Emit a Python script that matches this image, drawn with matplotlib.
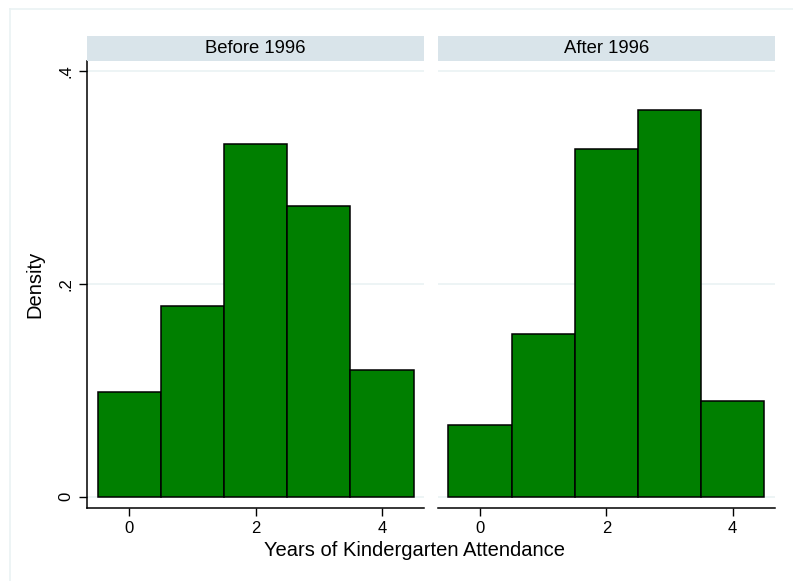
import matplotlib
matplotlib.use("Agg")
import matplotlib.pyplot as plt
from matplotlib.patches import Rectangle
from matplotlib.lines import Line2D

plt.rcParams["font.family"] = ["Liberation Sans", "DejaVu Sans"]

years = [0, 1, 2, 3, 4]
before_1996 = [0.098, 0.179, 0.331, 0.273, 0.119]
after_1996 = [0.067, 0.153, 0.327, 0.363, 0.090]
panel_titles = ["Before 1996", "After 1996"]
y_ticks = [0, 0.2, 0.4]
y_tick_labels = ["0", ".2", ".4"]
x_ticks = [0, 2, 4]

W, H = 793, 581
fig = plt.figure(figsize=(W / 100, H / 100), dpi=100)
fig.patch.set_facecolor("white")

grid_col = "#eaf2f3"
strip_col = "#d9e4ea"
green = "#007f00"

# faint outer frame of the graph region (only top and left edges fall inside the image)
fig.lines.append(Line2D([10 / W, 1], [1 - 9 / H, 1 - 9 / H], transform=fig.transFigure,
                        color=grid_col, linewidth=1.2))
fig.lines.append(Line2D([10 / W, 10 / W], [0, 1 - 9 / H], transform=fig.transFigure,
                        color=grid_col, linewidth=1.2))

bottom = 1 - 507.5 / H
top = 1 - 61 / H
lefts = [87 / W, 437.7 / W]
width = 337.3 / W

for i, (vals, title) in enumerate(zip([before_1996, after_1996], panel_titles)):
    ax = fig.add_axes([lefts[i], bottom, width, top - bottom])
    ax.set_facecolor("white")
    for yt in y_ticks:
        ax.axhline(yt, color=grid_col, linewidth=1.2, zorder=0)
    ax.bar(years, vals, width=1.0, color=green, edgecolor="black", linewidth=1.1, zorder=2)
    ax.set_xlim(-0.67, 4.67)
    ax.set_ylim(-0.0101, 0.4093)
    ax.set_xticks(x_ticks)
    ax.set_xticklabels([str(t) for t in x_ticks], fontsize=12)
    ax.tick_params(axis="x", length=6, width=1, pad=4, color="black")
    for s in ["top", "right"]:
        ax.spines[s].set_visible(False)
    ax.spines["bottom"].set_linewidth(1.1)
    if i == 0:
        ax.set_yticks(y_ticks)
        ax.set_yticklabels(y_tick_labels, fontsize=12, rotation=90, va="center")
        ax.tick_params(axis="y", length=6, width=1, pad=4)
        ax.spines["left"].set_linewidth(1.1)
        ax.set_ylabel("Density", fontsize=14.5, labelpad=10)
    else:
        ax.set_yticks([])
        ax.spines["left"].set_visible(False)

    # strip title above each panel
    sx = lefts[i]
    fig.patches.append(Rectangle((sx, 1 - 61 / H), width, 25 / H, transform=fig.transFigure,
                                 facecolor=strip_col, edgecolor="none"))
    fig.text(sx + width / 2, 1 - 48.5 / H, title, ha="center", va="center", fontsize=13.3)

fig.text(415 / W, 1 - 551 / H, "Years of Kindergarten Attendance",
         ha="center", va="center", fontsize=14.5)

fig.savefig("out.png", dpi=100)
